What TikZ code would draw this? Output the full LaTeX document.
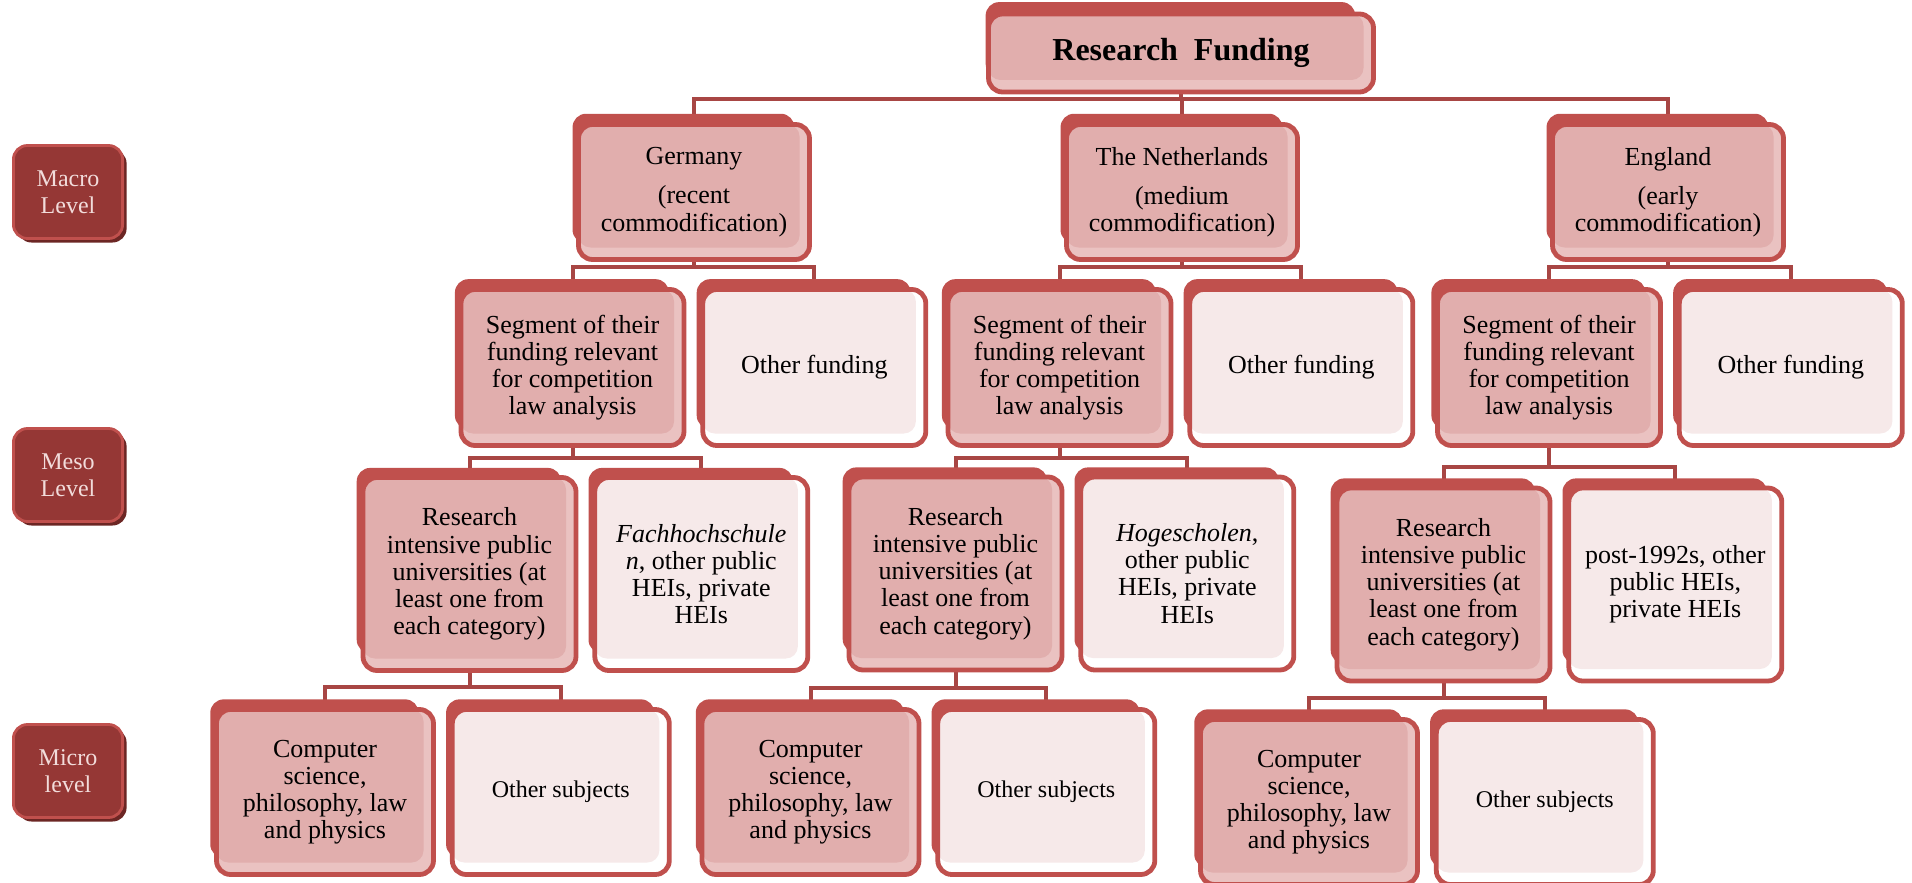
\documentclass[tikz,border=0pt]{standalone}
\usepackage{fontspec}
\setmainfont{Liberation Serif}
\usepackage{tikz}
\usetikzlibrary{positioning, backgrounds, shadows}
\definecolor{frameRed}{RGB}{192, 80, 77}
\definecolor{roseFill}{RGB}{225, 174, 173}
\definecolor{roseBand}{RGB}{234, 194, 193}
\definecolor{paleFill}{RGB}{246, 233, 233}
\definecolor{linkRed}{RGB}{168, 70, 68}
\definecolor{levelRed}{RGB}{149, 55, 53}
\definecolor{levelText}{RGB}{242, 220, 219}
\definecolor{levelShade}{RGB}{108, 38, 36}

\begin{document}
\begin{tikzpicture}[x=0.5pt, y=-0.5pt, node distance=7pt,
      stage/.style={rectangle, draw=frameRed, line width=2.4pt, rounded corners=7pt, align=center, inner sep=0pt,
        font=\fontsize{13}{13.6}\selectfont,
        general shadow={fill=frameRed, shadow scale=0.96, shadow xshift=-5.5pt, shadow yshift=7pt}},
      keybox/.style={stage, fill=roseBand,
        path picture={\fill[roseFill, rounded corners=6pt] (path picture bounding box.north west) rectangle ([xshift=-5pt, yshift=6pt]path picture bounding box.south east);}},
      restbox/.style={stage, fill=white,
        path picture={\fill[paleFill, rounded corners=6pt] (path picture bounding box.north west) rectangle ([xshift=-5pt, yshift=6pt]path picture bounding box.south east);}},
      rowone/.style={minimum width=115.5pt, minimum height=67.5pt},
      rowtwo/.style={minimum width=111.5pt, minimum height=78pt},
      rowthree/.style={minimum width=106.5pt, minimum height=96.5pt},
      rowfour/.style={minimum width=108.5pt, minimum height=82.5pt},
      level/.style={rectangle, draw=frameRed, line width=1.4pt, rounded corners=7pt, fill=levelRed, text=levelText,
        minimum width=54.6pt, minimum height=46.5pt, align=center, font=\fontsize{12}{13.5}\selectfont,
        general shadow={fill=levelShade, shadow xshift=2pt, shadow yshift=-2pt}},
      link/.style={draw=linkRed, line width=2pt}]

  \useasboundingbox (0,0) rectangle (1912,883);

  % levels
  \node[level] (macro) at (68,192) {Macro\\Level};
  \node[level] (meso) at (68,475) {Meso\\Level};
  \node[level] (micro) at (68,771) {Micro\\level};

  % macro level
  \node[keybox, minimum width=192.5pt, minimum height=39pt, font=\fontsize{16}{18}\selectfont\bfseries] (fund) at (1181,53) {Research~~Funding};

  \node[keybox, rowone] (germany) at (694,192) {Germany\\[6pt](recent\\commodification)};
  \node[keybox, rowone] (netherlands) at (1182,192) {The Netherlands\\[6pt](medium\\commodification)};
  \node[keybox, rowone] (england) at (1668,192) {England\\[6pt](early\\commodification)};

  % meso level
  \node[keybox, rowtwo] (gseg) at (572.5,367.5) {Segment of their\\funding relevant\\for competition\\law analysis};
  \node[restbox, rowtwo, right=of gseg] (gother) {Other funding};
  \node[keybox, rowtwo] (nseg) at (1059.5,367.5) {Segment of their\\funding relevant\\for competition\\law analysis};
  \node[restbox, rowtwo, right=of nseg] (nother) {Other funding};
  \node[keybox, rowtwo] (eseg) at (1549,367.5) {Segment of their\\funding relevant\\for competition\\law analysis};
  \node[restbox, rowtwo, right=of eseg] (eother) {Other funding};

  \node[keybox, rowthree] (gres) at (469.5,574) {Research\\intensive public\\universities (at\\least one from\\each category)};
  \node[restbox, rowthree, right=of gres] (gfach) {\textit{Fachhochschule}\\\textit{n}, other public\\HEIs, private\\HEIs};
  \node[keybox, rowthree] (nres) at (955.5,573.5) {Research\\intensive public\\universities (at\\least one from\\each category)};
  \node[restbox, rowthree, right=of nres] (nhog) {\textit{Hogescholen},\\other public\\HEIs, private\\HEIs};
  \node[keybox, rowthree] (eres) at (1443.5,584.5) {Research\\intensive public\\universities (at\\least one from\\each category)};
  \node[restbox, rowthree, right=of eres] (epost) {post-1992s, other\\public HEIs,\\private HEIs};

  % micro level
  \node[keybox, rowfour] (gcomp) at (325,792) {Computer\\science,\\philosophy, law\\and physics};
  \node[restbox, rowfour, right=of gcomp, font=\fontsize{12}{13.6}\selectfont] (gsubj) {Other subjects};
  \node[keybox, rowfour] (ncomp) at (810.5,792) {Computer\\science,\\philosophy, law\\and physics};
  \node[restbox, rowfour, right=of ncomp, font=\fontsize{12}{13.6}\selectfont] (nsubj) {Other subjects};
  \node[keybox, rowfour] (ecomp) at (1309,802) {Computer\\science,\\philosophy, law\\and physics};
  \node[restbox, rowfour, right=of ecomp, font=\fontsize{12}{13.6}\selectfont] (esubj) {Other subjects};

  \begin{scope}[on background layer]
    \foreach \kid in {germany, netherlands, england}
      \draw[link] (fund.south) -- ++(0,5) -| (\kid.north);
    \foreach \up/\left/\right/\drop in {germany/gseg/gother/5, netherlands/nseg/nother/5, england/eseg/eother/5,
        gseg/gres/gfach/10, nseg/nres/nhog/10, eseg/eres/epost/19,
        gres/gcomp/gsubj/14, nres/ncomp/nsubj/16, eres/ecomp/esubj/15}{
      \draw[link] (\up.south) -- ++(0,\drop) -| (\left.north);
      \draw[link] (\up.south) -- ++(0,\drop) -| (\right.north);
    }
  \end{scope}
\end{tikzpicture}
\end{document}
